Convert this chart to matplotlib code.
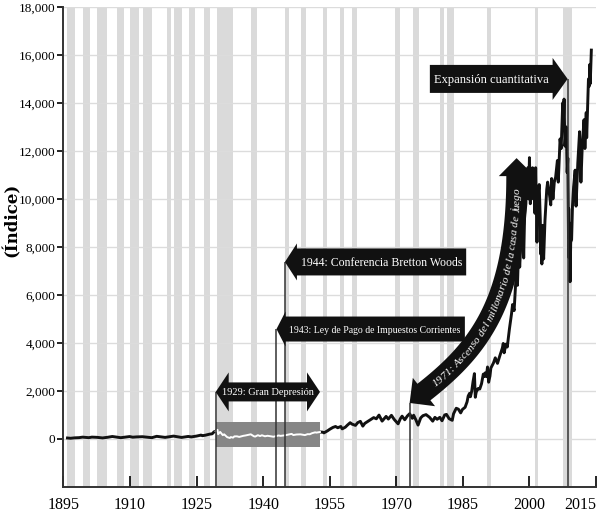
import numpy as np
import matplotlib
matplotlib.use("Agg")
import matplotlib.pyplot as plt
from matplotlib.patches import Polygon, Rectangle
from matplotlib.transforms import IdentityTransform

plt.rcParams["font.family"] = ["Liberation Serif", "DejaVu Serif"]

BAR_GREY, GRID_GREY, BAND_GREY, INK = "#dadada", "#dcdcdc", "#868686", "#111111"

# recession bands (years)
REC_START = [1895.8, 1899.3, 1902.6, 1907.1, 1910.0, 1913.0, 1918.4, 1919.9, 1923.2,
             1926.7, 1929.6, 1937.2, 1945.0, 1948.5, 1953.4, 1957.4, 1960.1, 1969.8,
             1973.8, 1979.9, 1981.4, 1990.4, 2001.2, 2007.6]
REC_END = [1897.5, 1900.9, 1904.7, 1908.6, 1912.0, 1915.0, 1919.2, 1921.6, 1924.6,
           1928.0, 1933.1, 1938.5, 1945.9, 1949.6, 1954.4, 1958.3, 1961.1, 1970.8,
           1975.1, 1980.7, 1982.9, 1991.3, 2002.0, 2009.5]

# index level
YEAR = [1895.9, 1896.6, 1897.6, 1898.5, 1899.3, 1900.7, 1901.4, 1902.6, 1903.8, 1905.0,
        1906.0, 1907.9, 1909.9, 1910.6, 1911.5, 1912.8, 1914.9, 1916.0, 1917.9, 1919.8,
        1921.6, 1923.1, 1923.8, 1925.0, 1926.0, 1926.3, 1927.0, 1927.9, 1928.5, 1928.95,
        1929.3, 1929.7, 1929.85, 1930.3, 1930.9, 1931.2, 1931.9, 1932.5, 1932.7, 1933.2,
        1933.5, 1934.1, 1934.6, 1935.5, 1936.0, 1937.2, 1937.9, 1938.2, 1938.8, 1939.3,
        1939.7, 1940.4, 1941.0, 1941.9, 1942.3, 1943.5, 1943.9, 1944.9, 1946.4, 1946.8,
        1947.5, 1948.4, 1949.4, 1950.0, 1950.5, 1951.0, 1951.7, 1952.0, 1952.8,
        1953.4, 1953.7, 1954.5, 1955.0, 1955.7, 1956.3, 1956.8, 1957.5, 1957.8, 1958.5,
        1959.0, 1959.6, 1960.0, 1960.8, 1961.3, 1961.9, 1962.45, 1962.9, 1963.8, 1964.9,
        1965.5, 1966.1, 1966.8, 1967.7, 1968.2, 1968.9, 1969.5, 1970.4, 1970.9, 1971.3,
        1971.9, 1972.5, 1973.0, 1973.6, 1973.9, 1974.4, 1974.9, 1975.5, 1976.0, 1976.7,
        1977.5, 1978.2, 1978.7, 1979.2, 1979.8, 1980.3, 1980.9, 1981.3, 1981.9, 1982.6,
        1982.9, 1983.5, 1984.0, 1984.5, 1984.9, 1985.5, 1985.95,
        1986.2, 1986.5, 1986.7, 1987.0, 1987.3, 1987.6, 1987.8, 1988.0, 1988.4, 1988.8,
        1989.2, 1989.6, 1989.8, 1990.0, 1990.3, 1990.55, 1990.8, 1991.1, 1991.3, 1991.9,
        1992.3, 1992.8, 1993.3, 1993.9, 1994.1, 1994.3, 1994.7, 1995.0, 1995.5, 1995.95,
        1996.2, 1996.55, 1996.9, 1997.2, 1997.3, 1997.6, 1997.8, 1998.0, 1998.3, 1998.55,
        1998.7, 1998.9, 1999.2, 1999.35, 1999.5, 1999.65, 1999.8, 2000.0, 2000.2, 2000.4,
        2000.5, 2000.7, 2000.85, 2001.0, 2001.25, 2001.4, 2001.7, 2001.9, 2002.2, 2002.45,
        2002.55, 2002.7, 2002.8, 2002.9, 2003.2, 2003.5, 2003.9, 2004.1, 2004.5, 2004.8,
        2005.0, 2005.3, 2005.6, 2005.9, 2006.3, 2006.5, 2006.9, 2007.15, 2007.5, 2007.6,
        2007.8, 2008.0, 2008.3, 2008.5, 2008.65, 2008.8, 2008.85, 2008.9, 2009.0, 2009.15,
        2009.3, 2009.5, 2009.7, 2009.95, 2010.3, 2010.5, 2010.9, 2011.3, 2011.6, 2011.9,
        2012.3, 2012.5, 2012.8, 2012.9, 2013.3, 2013.5, 2013.6, 2013.7, 2013.95]
INDEX = [40, 29, 48, 55, 76, 54, 77, 67, 43, 72,
         103, 53, 100, 74, 86, 94, 54, 110, 66, 119,
         64, 105, 86, 121, 162, 136, 158, 200, 215, 300,
         320, 381, 199, 294, 158, 194, 74, 41, 79, 55,
         108, 110, 85, 130, 145, 194, 113, 99, 158, 121,
         155, 112, 133, 106, 93, 145, 129, 152, 212, 163,
         186, 193, 161, 200, 197, 240, 276, 265, 290,
         284, 255, 340, 404, 480, 520, 468, 520, 420, 490,
         580, 678, 620, 566, 680, 735, 535, 650, 760, 890,
         840, 995, 744, 940, 830, 985, 820, 631, 840, 950,
         800, 960, 1052, 860, 990, 800, 577, 880, 970, 1015,
         900, 742, 900, 820, 900, 759, 1000, 1024, 845, 777,
         1050, 1280, 1240, 1086, 1230, 1320, 1550,
         1790, 1900, 1760, 2000, 2400, 2722, 1738, 1950, 2100, 2080,
         2300, 2700, 2600, 2750, 2600, 2999, 2365, 2620, 2950, 3170,
         3380, 3150, 3450, 3790, 3980, 3590, 3950, 3830, 4600, 5200,
         5600, 5350, 6500, 6900, 6400, 8200, 7160, 7900, 9200, 9330,
         7540, 9200, 9800, 10900, 10500, 11300, 10000, 11720, 9800, 11000,
         10300, 11300, 10000, 10900, 9400, 11300, 8200, 10100, 10600, 9100,
         7700, 8700, 7290, 8900, 7500, 9100, 10400, 10700, 10200, 9750,
         10850, 10000, 10700, 10900, 11600, 10700, 12500, 12100, 14000, 12850,
         14160, 12200, 13000, 11100, 11700, 8400, 9600, 7550, 9000, 6550,
         8200, 8300, 9700, 10500, 11200, 9700, 11500, 12800, 10700, 12200,
         13300, 12100, 13600, 12550, 15000, 14700, 15600, 14800, 16200]

# depression band
DEP_START, DEP_END = 1929.3, 1952.8
DEP_LOW, DEP_HIGH = -330, 710

# block-arrow annotations: text, year pointed at, level
ANN_TEXT = ["1929: Gran Depresión", "1943: Ley de Pago de Impuestos Corrientes",
            "1944: Conferencia Bretton Woods", "Expansión cuantitativa"]
ANN_YEAR = [1929.3, 1943.0, 1944.9, 2008.6]
ANN_LEVEL = [1960, 4580, 7375, 15000]

CURVE_TEXT = "1971: Ascenso del millonario de la casa de juego"
CURVE_YEAR, CURVE_LEVEL = 1973.0, 1500

fig = plt.figure(figsize=(5.99, 5.19), dpi=100)
ax = fig.add_axes([0.106, 0.0617, 0.889, 0.925])
ax.set_xlim(1895, 2015)
ax.set_ylim(-2000, 18000)
ax.set_autoscale_on(False)

for a, b in zip(REC_START, REC_END):
    ax.axvspan(a, b, color=BAR_GREY, lw=0, zorder=0.4)
ax.set_yticks(range(0, 18001, 2000))
ax.set_yticklabels([f"{v:,}" for v in range(0, 18001, 2000)])
ax.yaxis.grid(True, color=GRID_GREY, lw=1.0, zorder=0.3)
ax.set_axisbelow(True)

yr, idx = np.array(YEAR), np.array(INDEX)
ax.plot(yr, idx, color=INK, lw=2.1, zorder=2)
ax.add_patch(Rectangle((DEP_START, DEP_LOW), DEP_END - DEP_START, DEP_HIGH - DEP_LOW,
                       fc=BAND_GREY, ec="none", zorder=3))
inside = (yr >= DEP_START) & (yr <= DEP_END)
ax.plot(yr[inside], idx[inside], color="white", lw=1.4, zorder=4)

ax.vlines(ANN_YEAR + [CURVE_YEAR], -2000, ANN_LEVEL + [CURVE_LEVEL],
          colors="#333333", lw=1.1, zorder=5)

ax.set_xticks(range(1895, 2016, 15))
ax.tick_params(axis="x", direction="in", length=8, width=1.2, labelsize=11.5, pad=7)
ax.tick_params(axis="y", direction="out", length=4, width=1.2, labelsize=9.5, pad=2)
ax.get_xticklabels()[-1].set_horizontalalignment("right")
for side in ("top", "right"):
    ax.spines[side].set_visible(False)
for side in ("left", "bottom"):
    ax.spines[side].set_linewidth(1.4)
    ax.spines[side].set_color("#333333")
ax.set_ylabel("(Índice)", fontsize=12, fontweight="bold", family="DejaVu Serif")
ax.yaxis.set_label_coords(-0.0805, 0.556)

r = fig.canvas.get_renderer()
PIX = IdentityTransform()


def text_width(s, **kw):
    t = ax.text(0, 0, s, transform=PIX, **kw)
    w = t.get_window_extent(r).width
    t.remove()
    return w


def block_arrow(x, y, text, size, point, x2=None, box_h=26, flare=5, head=12, pad=4):
    tx, ty = ax.transData.transform((x, y))
    w = text_width(text, fontsize=size)
    h = box_h / 2
    if point == "left":
        x0, x1 = tx + head, tx + head + w + 2 * pad
    elif point == "right":
        x0, x1 = tx - head - w - 2 * pad, tx - head
    else:
        x0, x1 = tx + head, ax.transData.transform((x2, y))[0] - head
    pts = [(x0, ty + h), (x1, ty + h)]
    if point in ("right", "both"):
        pts += [(x1, ty + h + flare), (x1 + head, ty), (x1, ty - h - flare)]
    pts += [(x1, ty - h), (x0, ty - h)]
    if point in ("left", "both"):
        pts += [(x0, ty - h - flare), (x0 - head, ty), (x0, ty + h + flare)]
    ax.add_patch(Polygon(pts, closed=True, fc=INK, ec="none", transform=PIX, zorder=6))
    ax.text((x0 + x1) / 2, ty, text, fontsize=size, color="white", ha="center",
            va="center_baseline", transform=PIX, zorder=7)


block_arrow(ANN_YEAR[0], ANN_LEVEL[0], ANN_TEXT[0], 7.5, "both", x2=DEP_END,
            box_h=19, flare=10, head=13)
block_arrow(ANN_YEAR[1], ANN_LEVEL[1], ANN_TEXT[1], 7, "left", box_h=25, flare=5, head=9)
block_arrow(ANN_YEAR[2], ANN_LEVEL[2], ANN_TEXT[2], 8.5, "left", box_h=27, flare=5, head=12)
block_arrow(ANN_YEAR[3], ANN_LEVEL[3], ANN_TEXT[3], 9, "right", box_h=28, flare=7, head=15)

# curved double arrow, built in pixel space along a cubic bezier
ctrl = ax.transData.transform([(CURVE_YEAR, CURVE_LEVEL), (1987.5, 3500),
                               (1998.0, 5400), (1997.1, 11700)])
t = np.linspace(0, 1, 400)[:, None]
path = ((1 - t) ** 3 * ctrl[0] + 3 * (1 - t) ** 2 * t * ctrl[1]
        + 3 * (1 - t) * t ** 2 * ctrl[2] + t ** 3 * ctrl[3])
arc = np.concatenate([[0], np.cumsum(np.hypot(*np.diff(path, axis=0).T))])
L = arc[-1]


def at(s):
    p = np.array([np.interp(s, arc, path[:, 0]), np.interp(s, arc, path[:, 1])])
    a, b = max(s - 1.5, 0), min(s + 1.5, L)
    d = np.array([np.interp(b, arc, path[:, 0]) - np.interp(a, arc, path[:, 0]),
                  np.interp(b, arc, path[:, 1]) - np.interp(a, arc, path[:, 1])])
    d /= np.hypot(*d)
    return p, d, np.array([-d[1], d[0]])


HL, HW, HH = 18, 10.5, 18
band = np.linspace(HL, L - HL, 150)
left, right = [], []
for s in band:
    p, d, n = at(s)
    left.append(p + n * HW)
    right.append(p - n * HW)
pe, de, ne = at(L - HL)
pb, db, nb = at(HL)
poly = (left + [pe + ne * HH, path[-1], pe - ne * HH] + right[::-1]
        + [pb - nb * HH, path[0], pb + nb * HH])
ax.add_patch(Polygon(poly, closed=True, fc=INK, ec="none", transform=PIX, zorder=6))

kw = dict(fontsize=8, style="italic")
ref = text_width("x", **kw)
cum = [0.0] + [text_width(CURVE_TEXT[:k + 1] + "x", **kw) - ref for k in range(len(CURVE_TEXT))]
s0 = HL + (L - 2 * HL - cum[-1]) / 2
for k, ch in enumerate(CURVE_TEXT):
    if ch == " ":
        continue
    p, d, n = at(s0 + (cum[k] + cum[k + 1]) / 2)
    ax.text(p[0], p[1], ch, color="white", rotation=np.degrees(np.arctan2(d[1], d[0])),
            rotation_mode="anchor", ha="center", va="center_baseline", transform=PIX,
            zorder=7, **kw)

fig.savefig("out.png", dpi=100)
